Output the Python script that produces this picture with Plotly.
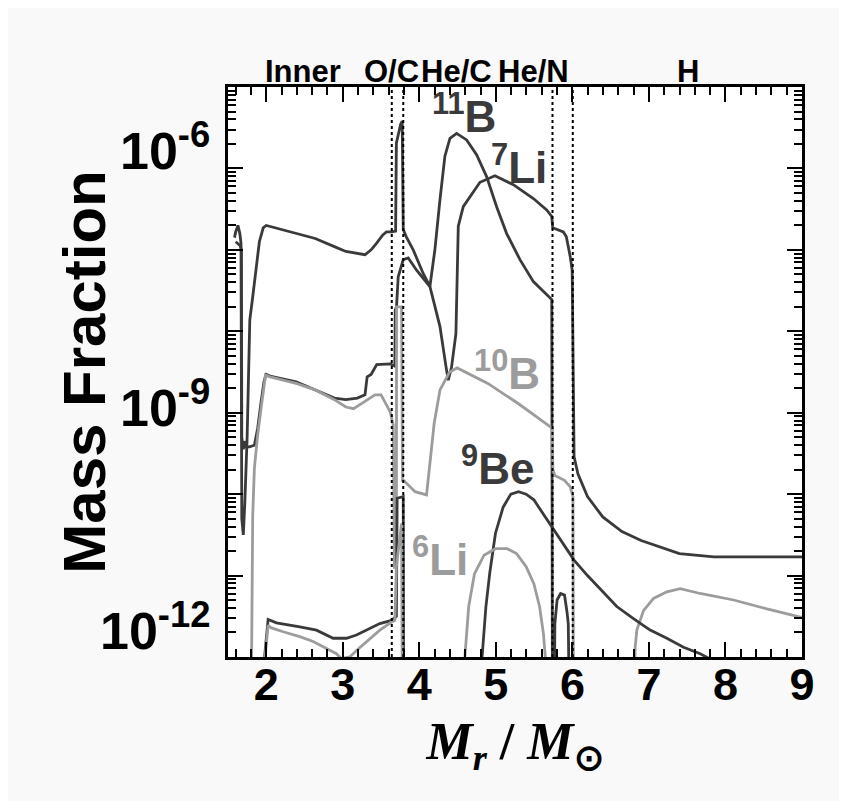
import plotly.graph_objects as go

# ---------------- data (x in M_r/Msun, y as log10 of mass fraction) ----------------
b11_x = [1.585, 1.60, 1.63, 1.655, 1.67, 1.68, 1.70, 1.72, 1.75, 1.785, 1.82, 1.87, 1.91, 1.96, 2.0, 2.04,
         2.39, 2.64, 2.89, 3.04, 3.29, 3.37, 3.44, 3.52, 3.57, 3.64, 3.69, 3.70, 3.755, 3.776, 3.79, 3.83,
         3.92, 4.05, 4.138, 4.203, 4.269, 4.334, 4.40, 4.487, 4.618, 4.748, 4.879, 5.01, 5.141, 5.315,
         5.49, 5.664, 5.73, 5.74, 5.76, 5.771, 5.80, 5.846, 5.897, 5.93, 5.946, 5.965, 9.0]
b11_log = [-6.85, -6.78, -6.70, -6.80, -6.92, -10.3, -10.5, -10.1, -9.3, -7.86, -7.60, -7.18, -6.90, -6.73, -6.70, -6.71,
           -6.80, -6.86, -6.96, -7.02, -7.06, -7.00, -6.92, -6.82, -6.78, -6.78, -6.77, -5.69, -5.46, -5.42, -6.75, -6.84,
           -7.00, -7.29, -7.45, -7.00, -6.39, -5.85, -5.63, -5.57, -5.65, -5.83, -6.10, -6.47, -6.80, -7.12,
           -7.39, -7.55, -7.61, -13.0, -13.0, -11.59, -11.30, -11.22, -11.24, -11.45, -11.59, -13.0, -13.0]

li7_x = [1.60, 1.66, 1.675, 1.68, 1.70, 1.72, 1.74, 1.78, 1.845, 1.888, 1.932, 1.97, 1.997, 2.05, 2.39, 2.64,
         2.89, 3.04, 3.19, 3.29, 3.318, 3.37, 3.443, 3.62, 3.637, 3.68, 3.685, 3.702, 3.724, 3.79, 3.855, 3.964,
         4.138, 4.269, 4.356, 4.378, 4.421, 4.478, 4.509, 4.574, 4.792, 4.923, 4.988, 5.228, 5.49, 5.664, 5.73,
         5.743, 5.795, 5.882, 5.921, 5.947, 5.971, 5.997, 6.005, 6.015, 6.022, 6.072, 6.197, 6.397, 6.647,
         6.898, 7.148, 7.398, 7.849, 9.0]
li7_log = [-6.90, -6.95, -7.00, -9.30, -9.45, -9.35, -9.42, -9.42, -9.40, -9.19, -8.87, -8.62, -8.53, -8.55, -8.62, -8.72,
           -8.82, -8.84, -8.82, -8.78, -8.56, -8.53, -8.41, -8.40, -8.41, -8.43, -7.74, -7.70, -7.33, -7.12, -7.10, -7.25,
           -7.45, -7.94, -8.48, -8.60, -8.44, -8.03, -6.71, -6.47, -6.17, -6.11, -6.09, -6.20, -6.37, -6.51, -6.59,
           -6.73, -6.75, -6.78, -6.84, -6.96, -7.08, -7.25, -8.00, -9.30, -9.54, -9.75, -10.03, -10.28, -10.46,
           -10.57, -10.65, -10.73, -10.77, -10.77]

b10_x = [1.80, 1.81, 1.823, 1.845, 1.888, 1.932, 1.97, 1.99, 2.05, 2.39, 2.64, 2.89, 3.04, 3.14, 3.29, 3.42,
         3.50, 3.62, 3.644, 3.66, 3.675, 3.70, 3.702, 3.768, 3.78, 3.794, 3.944, 4.094, 4.134, 4.194, 4.27,
         4.395, 4.495, 4.895, 5.296, 5.696, 5.736, 5.745, 5.771, 5.897, 5.972, 6.007, 6.015, 6.80, 6.82,
         6.842, 6.929, 7.06, 7.234, 7.408, 7.67, 8.106, 8.542, 8.978, 9.0]
b10_log = [-13.0, -11.0, -10.26, -9.68, -9.27, -8.95, -8.65, -8.54, -8.56, -8.64, -8.72, -8.84, -8.93, -8.95, -8.86, -8.78,
           -8.78, -8.99, -9.09, -9.15, -10.9, -10.9, -7.70, -7.70, -9.83, -9.83, -9.97, -10.01, -9.66, -9.13, -8.72,
           -8.50, -8.45, -8.64, -8.89, -9.17, -9.19, -9.70, -9.77, -9.83, -9.91, -10.03, -13.0, -13.0, -11.88,
           -11.67, -11.43, -11.28, -11.20, -11.16, -11.22, -11.30, -11.41, -11.51, -11.51]

be9_x = [1.97, 1.98, 2.024, 2.133, 2.438, 2.656, 2.874, 3.048, 3.179, 3.31, 3.484, 3.637, 3.70, 3.71, 3.79,
         3.795, 4.80, 4.82, 4.87, 4.92, 4.995, 5.095, 5.196, 5.296, 5.396, 5.496, 5.646, 5.746, 5.897, 6.022,
         6.197, 6.362, 6.58, 6.798, 7.016, 7.234, 7.452, 7.67, 7.85, 9.0]
be9_log = [-13.0, -11.98, -11.54, -11.58, -11.63, -11.67, -11.77, -11.77, -11.73, -11.67, -11.59, -11.55, -11.50, -10.05, -10.03,
           -13.0, -13.0, -12.0, -11.38, -10.97, -10.48, -10.16, -10.00, -9.97, -10.00, -10.07, -10.28, -10.42, -10.63, -10.81,
           -11.00, -11.16, -11.38, -11.53, -11.67, -11.77, -11.88, -11.96, -12.05, -12.7]

li6_x = [1.97, 1.985, 2.024, 2.06, 2.22, 2.438, 2.612, 2.787, 2.917, 2.98, 3.092, 3.179, 3.31, 3.484, 3.637,
         3.68, 3.70, 3.768, 3.78, 4.58, 4.595, 4.645, 4.72, 4.845, 4.995, 5.146, 5.27, 5.396, 5.496, 5.571,
         5.621, 5.646, 5.66]
li6_log = [-13.0, -12.0, -11.61, -11.64, -11.69, -11.75, -11.81, -11.90, -11.96, -12.02, -12.00, -11.92, -11.81, -11.67, -11.57,
           -11.55, -10.89, -10.36, -13.0, -13.0, -12.0, -11.38, -10.98, -10.75, -10.67, -10.67, -10.73, -10.89, -11.10, -11.38,
           -11.71, -12.0, -13.0]

zone_bounds = [3.64, 3.79, 5.74, 6.005]
zone_names = ["Inner", "O/C", "He/C", "He/N", "H"]
x_ticks = [2, 3, 4, 5, 6, 7, 8, 9]
y_decades = [-12, -11, -10, -9, -8, -7, -6, -5]
y_labeled = [-12, -9, -6]

# ---------------- styling ----------------
DARK = "#3a3a3a"
LIGHT = "#9c9c9c"
SANS = "Liberation Sans, Arial, Helvetica, sans-serif"
SERIF = "Liberation Serif, Times New Roman, serif"

fig = go.Figure()
series = [
    ("<sup>11</sup>B", b11_x, b11_log, DARK),
    ("<sup>7</sup>Li", li7_x, li7_log, DARK),
    ("<sup>10</sup>B", b10_x, b10_log, LIGHT),
    ("<sup>9</sup>Be", be9_x, be9_log, DARK),
    ("<sup>6</sup>Li", li6_x, li6_log, LIGHT),
]
for name, xs, ls, col in series:
    fig.add_trace(go.Scatter(x=xs, y=[10 ** v for v in ls], mode="lines", name=name,
                             line=dict(color=col, width=2.8), showlegend=False))

# zone boundaries
for xb in zone_bounds:
    fig.add_shape(type="line", xref="x", yref="paper", x0=xb, x1=xb, y0=0, y1=1,
                  line=dict(color="black", width=2, dash="dot"))

# zone labels
zone_label_x = [2.477, 3.632, 4.483, 5.486, 7.51]
for nm, zx in zip(zone_names, zone_label_x):
    fig.add_annotation(x=zx, xref="x", y=1.027, yref="paper", text=nm, showarrow=False,
                       xanchor="center", yanchor="middle",
                       font=dict(family=SANS, size=31, color="black", weight="bold"))

# species labels
species_labels = [
    ("<sup>11</sup>B", 4.58, -5.33, DARK),
    ("<sup>7</sup>Li", 5.30, -5.95, DARK),
    ("<sup>10</sup>B", 5.15, -8.48, LIGHT),
    ("<sup>9</sup>Be", 5.02, -9.65, DARK),
    ("<sup>6</sup>Li", 4.27, -10.76, LIGHT),
]
for txt, lx, ly, col in species_labels:
    fig.add_annotation(x=lx, y=ly, xref="x", yref="y", text=txt, showarrow=False,
                       xanchor="center", yanchor="middle",
                       font=dict(family=SANS, size=44, color=col, weight="bold"))

# y tick labels (placed like the original: the lowest one sits above its tick)
y_label_pos = {-6: 0.895, -9: 0.443, -12: 0.052}
for d in y_labeled:
    fig.add_annotation(x=-0.028, xref="paper", y=y_label_pos[d], yref="paper",
                       text="10<sup>%d</sup>" % d, showarrow=False, xanchor="right", yanchor="middle",
                       font=dict(family=SANS, size=52, color="black", weight="bold"))

# the page body has an 8 px margin: shrink the figure so the plot area lands where the original's does
W, H = 839, 793
ML, MR, MT, MB = 220, 45, 79, 144
pw, ph = W - ML - MR, H - MT - MB
fig.add_shape(type="line", xref="paper", yref="paper", x0=1 + MR / pw, x1=1 + MR / pw,
              y0=-MB / ph, y1=1 + MT / ph, line=dict(color="#333333", width=12))

minor_y = [k * 10.0 ** d for d in y_decades[:-1] for k in range(2, 10)]

fig.update_layout(
    width=W, height=H,
    margin=dict(l=ML, r=MR, t=MT, b=MB),
    paper_bgcolor="#f9f9f9", plot_bgcolor="white",
    xaxis=dict(
        range=[1.5, 9], tickmode="array", tickvals=x_ticks, ticktext=[str(t) for t in x_ticks],
        ticks="inside", ticklen=15, tickwidth=2, tickcolor="black", ticklabelstandoff=-14,
        showline=True, linewidth=3, linecolor="black", mirror="allticks",
        showgrid=False, zeroline=False,
        tickfont=dict(family=SANS, size=45, color="black", weight="bold"),
        minor=dict(tick0=0, dtick=0.2, ticks="inside", ticklen=8, tickwidth=2, tickcolor="black", showgrid=False),
        title=dict(text="<i>M<sub>r</sub></i> / <i>M</i><sub>⊙</sub>", standoff=14,
                   font=dict(family=SERIF, size=52, color="black", weight="bold")),
    ),
    yaxis=dict(
        type="log", range=[-12, -5.0], tickmode="array",
        tickvals=[10.0 ** d for d in y_decades], showticklabels=False,
        ticks="inside", ticklen=15, tickwidth=2, tickcolor="black",
        showline=True, linewidth=3, linecolor="black", mirror="allticks",
        showgrid=False, zeroline=False,
        minor=dict(tickmode="array", tickvals=minor_y, ticks="inside", ticklen=8, tickwidth=2,
                   tickcolor="black", showgrid=False),
        title=dict(text="Mass Fraction", standoff=101,
                   font=dict(family=SANS, size=60, color="black", weight="bold")),
    ),
)

fig.write_html("out.html")
